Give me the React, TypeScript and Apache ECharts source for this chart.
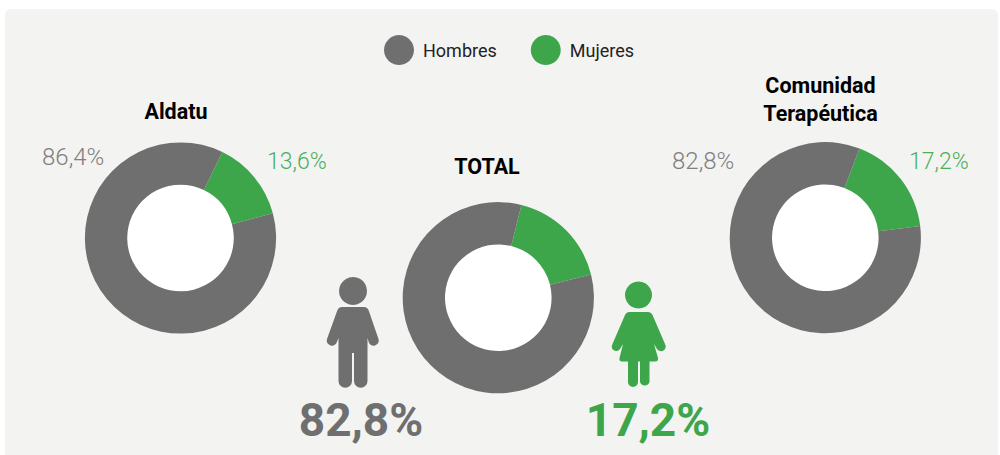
import React, { useEffect, useRef } from "react";
import * as echarts from "echarts";

const genders = ["Hombres", "Mujeres"];
const aldatu = [86.4, 13.6];
const total = [82.8, 17.2];
const comunidad = [82.8, 17.2];
const pieTitles = ["Aldatu", "TOTAL", "Comunidad\nTerapéutica"];

const GREY = "#6f6f6f";
const GREEN = "#3da64a";
const FONT = "Roboto, sans-serif";

const fmt = (v: number) => v.toFixed(1).replace(".", ",") + "%";

const MAN =
  "M342 307 L364 307 Q367.5 307 368.7 310.5 L378.5 339 A5.2 5.2 0 0 1 369 343 L367.5 338 L367.5 381 A6.7 6.7 0 0 1 354 381 L354 353 L352 353 L352 381 A6.7 6.7 0 0 1 338.5 381 L338.5 338 L336.5 343 A5.2 5.2 0 0 1 327 339 L337.3 310.5 Q338.5 307 342 307 Z";
const WOMAN =
  "M629 312 L648 312 Q651 312 652.5 315 L665 344 A4.5 4.5 0 0 1 657 349 L654 344 L658 358 Q658.5 361.5 655 361.5 L649.5 361.5 L649.5 382 A5 5 0 0 1 640 382 L640 361.5 L638 361.5 L638 382 A5 5 0 0 1 628 382 L628 361.5 L622 361.5 Q619 361.5 619.5 358 L623 344 L620 349 A4.5 4.5 0 0 1 612.5 344 L625 315 Q626.5 312 629 312 Z";

echarts.graphic.registerShape("manIcon", (echarts.graphic as any).extendPath(MAN, {}));
echarts.graphic.registerShape("womanIcon", (echarts.graphic as any).extendPath(WOMAN, {}));

const R_OUT = 95.6;
const R_IN = 53.3;

function makePie(values: number[], cx: number, cy: number, startAngle: number) {
  return {
    type: "pie",
    center: [cx, cy],
    radius: [R_IN, R_OUT],
    startAngle,
    clockwise: true,
    silent: true,
    label: { show: false },
    labelLine: { show: false },
    emphasis: { disabled: true },
    data: [
      { name: genders[1], value: values[1], itemStyle: { color: GREEN } },
      { name: genders[0], value: values[0], itemStyle: { color: GREY } },
    ],
  };
}

export default function App() {
  const ref = useRef<HTMLDivElement>(null);
  useEffect(() => {
    const chart = echarts.init(ref.current!, undefined, { renderer: "svg" });
    const label = (text: string, x: number, y: number, fill: string, size: number) => ({
      type: "text",
      x,
      y,
      z: 5,
      style: { text, fill, font: `300 ${size}px ${FONT}`, textAlign: "left", textVerticalAlign: "middle" },
    });
    const big = (text: string, x: number, fill: string) => ({
      type: "text",
      x,
      y: 419.5,
      z: 5,
      style: { text, fill, font: `700 46px ${FONT}`, textAlign: "center", textVerticalAlign: "middle" },
    });
    const hole = (cx: number, cy: number) => ({
      type: "circle",
      shape: { cx, cy, r: R_IN },
      style: { fill: "#ffffff" },
      z: 1,
    });
    chart.setOption({
      animation: false,
      color: [GREY, GREEN],
      title: pieTitles.map((t, i) => ({
        text: t,
        left: [171, 482, 815.5][i],
        top: [92, 147, 66][i],
        textAlign: "center",
        textStyle: { fontFamily: FONT, fontWeight: 700, fontSize: 21.5, color: "#000", lineHeight: 28 },
      })),
      legend: {
        left: 379,
        top: 30,
        orient: "horizontal",
        icon: "circle",
        itemWidth: 30,
        itemHeight: 30,
        itemGap: 34,
        selectedMode: false,
        data: genders,
        textStyle: { fontFamily: FONT, fontSize: 18, fontWeight: 400, color: "#222", padding: [0, 0, 0, 4] },
      },
      graphic: {
        elements: [
          {
            type: "rect",
            z: -1,
            shape: { x: 5, y: 9, width: 993, height: 450, r: 6 },
            style: { fill: "#f3f3f2" },
          },
          hole(180.5, 238),
          hole(498.3, 297.7),
          hole(825.3, 237.7),
          label(fmt(aldatu[0]), 42, 157, "#808080", 24),
          label(fmt(aldatu[1]), 267, 161, "#4caf5a", 23),
          label(fmt(comunidad[0]), 672, 161, "#808080", 24),
          label(fmt(comunidad[1]), 909, 161, "#4caf5a", 23),
          { type: "circle", shape: { cx: 353, cy: 291, r: 14 }, style: { fill: GREY }, z: 5 },
          { type: "manIcon", x: 0, y: 0, style: { fill: GREY }, z: 5 },
          { type: "circle", shape: { cx: 638.5, cy: 295, r: 13.5 }, style: { fill: GREEN }, z: 5 },
          { type: "womanIcon", x: 0, y: 0, style: { fill: GREEN }, z: 5 },
          big(fmt(total[0]), 361, GREY),
          big(fmt(total[1]), 648, GREEN),
        ],
      },
      series: [
        makePie(aldatu, 180.5, 238, 64),
        makePie(total, 498.3, 297.7, 76),
        makePie(comunidad, 825.3, 237.7, 69),
      ],
    });
    return () => chart.dispose();
  }, []);
  return <div ref={ref} style={{ position: "absolute", left: 0, top: 0, width: 1000, height: 455 }} />;
}
